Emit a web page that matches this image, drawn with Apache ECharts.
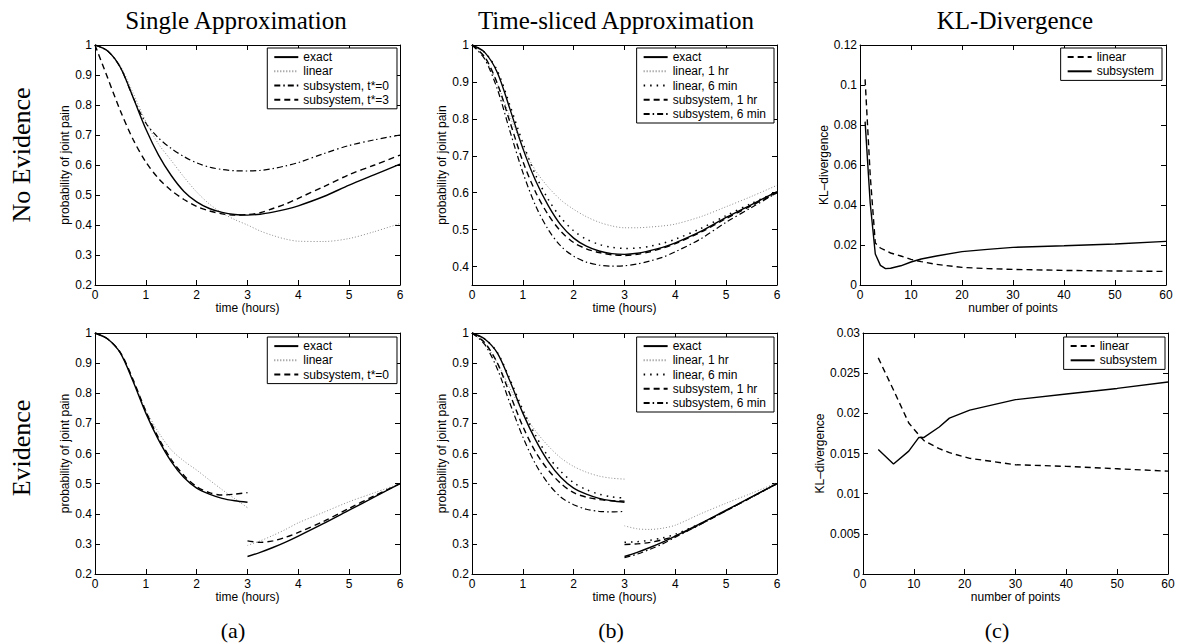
<!DOCTYPE html>
<html>
<head>
<meta charset="utf-8">
<script src="https://cdn.jsdelivr.net/npm/echarts@6/dist/echarts.min.js"></script>
<style>html,body{margin:0;padding:0;background:#fff}#c{width:1183px;height:643px}</style>
</head>
<body>
<div id="c"></div>
<script>
// ---------- DATA ----------
const tFull = [0,0.25,0.5,0.75,1,1.25,1.5,1.75,2,2.25,2.5,2.75,3,3.25,3.5,3.75,4,4.5,5,5.5,6];
const tSeg1 = [0,0.25,0.5,0.75,1,1.25,1.5,1.75,2,2.25,2.5,2.75,3];
const tSeg2 = [3,3.25,3.5,3.75,4,4.5,5,5.5,6];

// (a) No evidence, single approximation
const a1Exact  = [1,0.98,0.925,0.825,0.72,0.633,0.565,0.512,0.477,0.455,0.442,0.435,0.433,0.436,0.443,0.452,0.464,0.495,0.533,0.568,0.603];
const a1Linear = [1,0.98,0.93,0.84,0.745,0.67,0.615,0.56,0.51,0.47,0.44,0.418,0.40,0.38,0.365,0.353,0.346,0.345,0.355,0.378,0.405];
const a1Sub0   = [1,0.98,0.925,0.825,0.74,0.69,0.655,0.628,0.607,0.593,0.585,0.581,0.58,0.582,0.588,0.597,0.608,0.638,0.665,0.684,0.70];
const a1Sub3   = [1,0.89,0.78,0.685,0.61,0.555,0.515,0.485,0.462,0.447,0.437,0.433,0.435,0.441,0.455,0.47,0.489,0.528,0.568,0.60,0.633];

// (b) No evidence, time-sliced approximation
const b1Exact  = [1,0.98,0.925,0.825,0.72,0.633,0.565,0.512,0.477,0.455,0.442,0.435,0.433,0.436,0.443,0.452,0.464,0.495,0.533,0.568,0.603];
const b1Lin1h  = [1,0.965,0.895,0.805,0.725,0.66,0.615,0.58,0.555,0.535,0.52,0.51,0.505,0.505,0.507,0.51,0.515,0.535,0.562,0.59,0.62];
const b1Lin6m  = [1,0.98,0.93,0.835,0.735,0.648,0.582,0.532,0.497,0.474,0.46,0.452,0.449,0.45,0.455,0.463,0.474,0.503,0.538,0.571,0.603];
const b1Sub1h  = [1,0.968,0.895,0.79,0.685,0.602,0.54,0.495,0.465,0.448,0.438,0.432,0.43,0.433,0.44,0.45,0.462,0.493,0.53,0.565,0.60];
const b1Sub6m  = [1,0.962,0.88,0.765,0.655,0.565,0.5,0.455,0.428,0.412,0.404,0.401,0.402,0.407,0.415,0.425,0.44,0.475,0.52,0.56,0.60];

// (a) Evidence, single approximation (before / after t = 3)
const a2Exact1  = [1,0.98,0.933,0.839,0.734,0.645,0.573,0.52,0.485,0.465,0.451,0.443,0.438];
const a2Exact2  = [0.258,0.272,0.288,0.306,0.326,0.368,0.412,0.456,0.5];
const a2Linear1 = [1,0.98,0.933,0.842,0.745,0.67,0.612,0.575,0.545,0.512,0.48,0.45,0.42];
const a2Linear2 = [0.295,0.31,0.328,0.348,0.37,0.405,0.44,0.47,0.5];
const a2Sub1    = [1,0.98,0.935,0.845,0.74,0.652,0.58,0.527,0.49,0.47,0.462,0.465,0.47];
const a2Sub2    = [0.31,0.305,0.31,0.322,0.338,0.375,0.418,0.46,0.5];

// (b) Evidence, time-sliced approximation
const b2Exact1  = [1,0.98,0.933,0.839,0.734,0.645,0.573,0.52,0.485,0.465,0.451,0.443,0.438];
const b2Exact2  = [0.258,0.272,0.288,0.306,0.326,0.368,0.412,0.456,0.5];
const b2Lin1h1  = [1,0.965,0.9,0.815,0.738,0.675,0.625,0.585,0.557,0.538,0.525,0.518,0.515];
const b2Lin1h2  = [0.36,0.35,0.348,0.352,0.362,0.4,0.435,0.468,0.503];
const b2Lin6m1  = [1,0.98,0.935,0.845,0.745,0.66,0.59,0.54,0.503,0.48,0.465,0.456,0.452];
const b2Lin6m2  = [0.305,0.307,0.312,0.32,0.332,0.368,0.411,0.455,0.5];
const b2Sub1h1  = [1,0.968,0.9,0.795,0.69,0.605,0.545,0.5,0.47,0.455,0.447,0.443,0.442];
const b2Sub1h2  = [0.298,0.3,0.305,0.314,0.326,0.366,0.41,0.455,0.5];
const b2Sub6m1  = [1,0.962,0.88,0.765,0.655,0.565,0.5,0.455,0.43,0.415,0.408,0.406,0.408];
const b2Sub6m2  = [0.254,0.266,0.282,0.3,0.322,0.365,0.41,0.455,0.5];

// (c) KL-divergence vs number of points
const nC1       = [1,2,3,4,5,6,8,10,12,15,20,25,30,40,50,60];
const c1Linear  = [0.1028,0.055,0.021,0.0185,0.0172,0.016,0.0145,0.0128,0.0117,0.0103,0.0088,0.0082,0.0078,0.0073,0.007,0.0068];
const c1Subsys  = [0.0817,0.041,0.0155,0.0098,0.0082,0.0084,0.0096,0.0115,0.013,0.0145,0.0167,0.0178,0.0188,0.0196,0.0205,0.0218];
const nC2       = [3,6,9,11,12,15,17,21,30,40,50,60];
const c2Linear  = [0.0269,0.0229,0.0188,0.0173,0.0166,0.0156,0.0151,0.0144,0.0136,0.0134,0.0131,0.0128];
const c2Subsys  = [0.0155,0.0137,0.0153,0.017,0.017,0.0183,0.0194,0.0204,0.0217,0.0224,0.0231,0.0239];

// Tick labels / texts
const colTitles = ['Single Approximation','Time-sliced Approximation','KL-Divergence'];
const rowTitles = ['No Evidence','Evidence'];
const subLabels = ['(a)','(b)','(c)'];
const probName = 'probability of joint pain';
const klName = 'KL\u2013divergence';
const timeName = 'time (hours)';
const pointsName = 'number of points';
const b1YTicks = [0.4,0.5,0.6,0.7,0.8,0.9,1];

// ---------- CHART ----------
const SANS = '"Liberation Sans", Arial, Helvetica, sans-serif';
const SERIF = '"Liberation Serif", "Times New Roman", serif';
const pts = (xs, ys) => xs.map((x, i) => [x, ys[i]]);

const grids = [
  {left: 95,  top: 45,  width: 305, height: 240},  // A1
  {left: 472, top: 45,  width: 305, height: 240},  // B1
  {left: 860, top: 45,  width: 306, height: 240},  // C1
  {left: 95,  top: 333, width: 305, height: 241},  // A2
  {left: 472, top: 333, width: 305, height: 241},  // B2
  {left: 863, top: 333, width: 305, height: 241}   // C2
];

const axisCfg = [
  {x:[0,6,1], y:[0.2,1,0.1], xn: timeName, yn: probName, yGap: 20},
  {x:[0,6,1], y:[0.35,1,null], xn: timeName, yn: probName, yGap: 20, yTicks: b1YTicks},
  {x:[0,60,10], y:[0,0.12,0.02], xn: pointsName, yn: klName, yGap: 27},
  {x:[0,6,1], y:[0.2,1,0.1], xn: timeName, yn: probName, yGap: 20},
  {x:[0,6,1], y:[0.2,1,0.1], xn: timeName, yn: probName, yGap: 20},
  {x:[0,60,10], y:[0,0.03,0.005], xn: pointsName, yn: klName, yGap: 33}
];

const lineAx = {show: true, onZero: false, lineStyle: {color: '#000', width: 1}};
const tickAx = {show: true, inside: true, length: 5, lineStyle: {color: '#000', width: 1}};
const labAx = {color: '#000', fontSize: 12, fontFamily: SANS};

const xAxes = [], yAxes = [];
axisCfg.forEach((c, g) => {
  const xb = {gridIndex: g, type: 'value', min: c.x[0], max: c.x[1], interval: c.x[2], position: 'bottom',
    axisLine: lineAx, axisTick: tickAx, axisLabel: Object.assign({margin: 4}, labAx), splitLine: {show: false},
    name: c.xn, nameLocation: 'middle', nameGap: 15,
    nameTextStyle: {color: '#000', fontSize: 12, fontFamily: SANS}};
  const xt = {gridIndex: g, type: 'value', min: c.x[0], max: c.x[1], interval: c.x[2], position: 'top',
    axisLine: lineAx, axisTick: tickAx, axisLabel: {show: false}, splitLine: {show: false}};
  const yl = {gridIndex: g, type: 'value', min: c.y[0], max: c.y[1], position: 'left',
    axisLine: lineAx, axisTick: Object.assign({}, tickAx), axisLabel: Object.assign({margin: 3}, labAx), splitLine: {show: false},
    name: c.yn, nameLocation: 'middle', nameGap: c.yGap, nameRotate: 90,
    nameTextStyle: {color: '#000', fontSize: 12, fontFamily: SANS}};
  const yr = {gridIndex: g, type: 'value', min: c.y[0], max: c.y[1], position: 'right',
    axisLine: lineAx, axisTick: Object.assign({}, tickAx), axisLabel: {show: false}, splitLine: {show: false}};
  if (c.y[2] !== null) { yl.interval = c.y[2]; yr.interval = c.y[2]; }
  if (c.yTicks) {
    yl.axisTick.customValues = c.yTicks; yl.axisLabel.customValues = c.yTicks;
    yr.axisTick.customValues = c.yTicks; yr.axisLabel = {show: false, customValues: c.yTicks};
  }
  xAxes.push(xb, xt); yAxes.push(yl, yr);
});

// line styles
const ST = {
  solid:   {color: '#000', width: 1.4, type: 'solid'},
  dotGray: {color: '#8a8a8a', width: 1, type: [1, 2]},
  dotBlk:  {color: '#000', width: 1.5, type: [1.5, 5]},
  dashed:  {color: '#000', width: 1.4, type: [6, 4]},
  dashdot: {color: '#000', width: 1.2, type: [6, 3, 1.5, 3]}
};
const zw = k => '\u200b'.repeat(k);   // keeps names unique per panel
const series = [];
function add(g, name, style, data, smooth) {
  series.push({type: 'line', name: name, xAxisIndex: 2 * g, yAxisIndex: 2 * g, data: data,
    showSymbol: false, symbol: 'none', smooth: smooth === false ? false : 0.3, lineStyle: style, color: style.color,
    silent: true, animation: false, z: style === ST.solid ? 3 : 2});
}
// A1
add(0, 'exact' + zw(0), ST.solid, pts(tFull, a1Exact));
add(0, 'linear' + zw(0), ST.dotGray, pts(tFull, a1Linear));
add(0, 'subsystem, t*=0' + zw(0), ST.dashdot, pts(tFull, a1Sub0));
add(0, 'subsystem, t*=3' + zw(0), ST.dashed, pts(tFull, a1Sub3));
// B1
add(1, 'exact' + zw(1), ST.solid, pts(tFull, b1Exact));
add(1, 'linear, 1 hr' + zw(1), ST.dotGray, pts(tFull, b1Lin1h));
add(1, 'linear, 6 min' + zw(1), ST.dotBlk, pts(tFull, b1Lin6m));
add(1, 'subsystem, 1 hr' + zw(1), ST.dashed, pts(tFull, b1Sub1h));
add(1, 'subsystem, 6 min' + zw(1), ST.dashdot, pts(tFull, b1Sub6m));
// C1
add(2, 'linear' + zw(2), ST.dashed, pts(nC1, c1Linear), false);
add(2, 'subsystem' + zw(2), ST.solid, pts(nC1, c1Subsys), false);
// A2
add(3, 'exact' + zw(3), ST.solid, pts(tSeg1, a2Exact1));
add(3, 'exact' + zw(3), ST.solid, pts(tSeg2, a2Exact2));
add(3, 'linear' + zw(3), ST.dotGray, pts(tSeg1, a2Linear1));
add(3, 'linear' + zw(3), ST.dotGray, pts(tSeg2, a2Linear2));
add(3, 'subsystem, t*=0' + zw(3), ST.dashed, pts(tSeg1, a2Sub1));
add(3, 'subsystem, t*=0' + zw(3), ST.dashed, pts(tSeg2, a2Sub2));
// B2
add(4, 'exact' + zw(4), ST.solid, pts(tSeg1, b2Exact1));
add(4, 'exact' + zw(4), ST.solid, pts(tSeg2, b2Exact2));
add(4, 'linear, 1 hr' + zw(4), ST.dotGray, pts(tSeg1, b2Lin1h1));
add(4, 'linear, 1 hr' + zw(4), ST.dotGray, pts(tSeg2, b2Lin1h2));
add(4, 'linear, 6 min' + zw(4), ST.dotBlk, pts(tSeg1, b2Lin6m1));
add(4, 'linear, 6 min' + zw(4), ST.dotBlk, pts(tSeg2, b2Lin6m2));
add(4, 'subsystem, 1 hr' + zw(4), ST.dashed, pts(tSeg1, b2Sub1h1));
add(4, 'subsystem, 1 hr' + zw(4), ST.dashed, pts(tSeg2, b2Sub1h2));
add(4, 'subsystem, 6 min' + zw(4), ST.dashdot, pts(tSeg1, b2Sub6m1));
add(4, 'subsystem, 6 min' + zw(4), ST.dashdot, pts(tSeg2, b2Sub6m2));
// C2
add(5, 'linear' + zw(5), ST.dashed, pts(nC2, c2Linear), false);
add(5, 'subsystem' + zw(5), ST.solid, pts(nC2, c2Subsys), false);

function legendFor(g, right, top) {
  const names = [];
  series.forEach(s => { if (s.xAxisIndex === 2 * g && names.indexOf(s.name) < 0) names.push(s.name); });
  return {data: names, orient: 'vertical', right: right, top: top, align: 'left',
    itemWidth: 24, itemHeight: 8, itemGap: 0, padding: [2, 8, 2, 6],
    backgroundColor: '#fff', borderColor: '#000', borderWidth: 1, borderRadius: 0,
    selectedMode: false,
    itemStyle: {opacity: 0},
    formatter: n => n.replace(/\u200b/g, ''),
    textStyle: {color: '#000', fontSize: 12, fontFamily: SANS, lineHeight: 14.2}};
}
const W = 1183;
const legends = [
  legendFor(0, W - 397, 48),
  legendFor(1, W - 774, 48),
  legendFor(2, W - 1162, 48),
  legendFor(3, W - 397, 337),
  legendFor(4, W - 774, 337),
  legendFor(5, W - 1165, 337)
];

const graphics = [];
[[236, 20], [616, 20], [1015, 20]].forEach((p, i) => graphics.push({type: 'text', x: p[0], y: p[1],
  style: {text: colTitles[i], textAlign: 'center', textVerticalAlign: 'middle', font: '25px ' + SERIF, fill: '#000'}}));
[[21, 155], [21, 448]].forEach((p, i) => graphics.push({type: 'text', x: p[0], y: p[1], rotation: Math.PI / 2,
  style: {text: rowTitles[i], textAlign: 'center', textVerticalAlign: 'middle', font: '26px ' + SERIF, fill: '#000'}}));
[[233, 630], [611, 630], [997, 630]].forEach((p, i) => graphics.push({type: 'text', x: p[0], y: p[1],
  style: {text: subLabels[i], textAlign: 'center', textVerticalAlign: 'middle', font: '22px ' + SERIF, fill: '#000'}}));

const chart = echarts.init(document.getElementById('c'), null, {renderer: 'svg', width: 1183, height: 643});
chart.setOption({
  backgroundColor: '#fff',
  animation: false,
  grid: grids,
  xAxis: xAxes,
  yAxis: yAxes,
  legend: legends,
  series: series,
  graphic: graphics
});
</script>
</body>
</html>
